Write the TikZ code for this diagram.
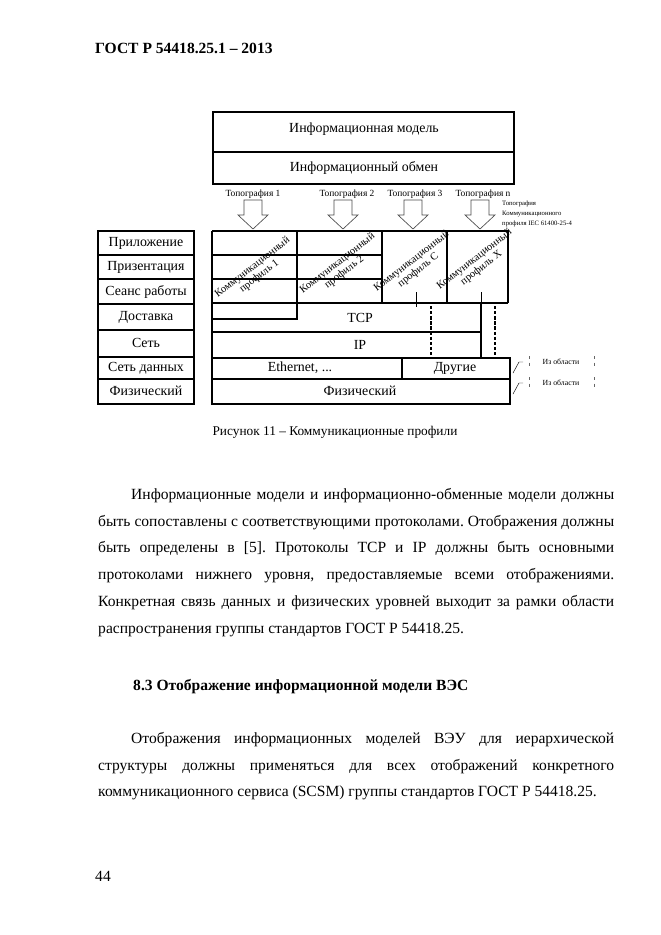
\documentclass[tikz,border=0pt]{standalone}
\usepackage{fontspec}
\setmainfont{Liberation Serif}
\frenchspacing

\begin{document}
\begin{tikzpicture}[x=0.9pt, y=-0.9pt]
  % Styles
  \tikzset{
    frm/.style={line width=1.1pt},
    hdr/.style={font=\fontsize{14}{16}\selectfont\bfseries, inner sep=0pt, anchor=base west},
    lbl/.style={font=\fontsize{12.5}{14}\selectfont, inner sep=0pt},
    topo/.style={font=\fontsize{8.5}{10}\selectfont, inner sep=0pt},
    tiny/.style={font=\fontsize{6}{9}\selectfont, inner sep=0pt, align=left, anchor=north west},
    prof/.style={font=\fontsize{9.5}{10}\selectfont, inner sep=0pt, rotate=38, align=center},
    outside/.style={font=\fontsize{7}{8}\selectfont, inner sep=0pt},
    bodytext/.style={font=\fontsize{14}{24.1}\selectfont, inner sep=0pt, text width=464.4pt,
                     align=justify, anchor=north west},
    blockarr/.style={draw=black!70, line width=0.6pt, fill=white},
  }
  %
  % Layout constants
  \def\lx{98}      % left column x
  \def\lr{194}     % left column right
  \def\sx{212}     % stack x
  \def\sr{508}     % profile area right
  %
  \useasboundingbox[fill=white] (0,0) rectangle (661,935);
  %
  % === PAGE HEADER ===
  \node[hdr] (gost) at (95,53) {ГОСТ Р 54418.25.1 – 2013};
  %
  % === INFORMATION MODEL BOX ===
  \draw[line width=1.4pt] (213,112) rectangle (514,184);
  \draw[frm] (213,152) -- (514,152);
  \node[lbl] (infmodel) at (364,129) {Информационная модель};
  \node[lbl] (infexch) at (364,168) {Информационный обмен};
  %
  % === TOPOGRAPHIES AND BLOCK ARROWS ===
  \foreach \i/\ax/\tx/\t in {1/253/253/1, 2/343/347/2, 3/413/415/3, 4/480/483/n} {
    \node[topo] (topo\i) at (\tx,194) {Топография \t};
    \draw[blockarr] (\ax-9,200) -- (\ax+9,200) -- (\ax+9,215) -- (\ax+15,215)
      -- (\ax,229) -- (\ax-15,215) -- (\ax-9,215) -- cycle;
  }
  \node[tiny] (topoiec) at (502,201) {Топография\\Коммуникационного\\профиля IEC 61400-25-4};
  %
  % === OSI LAYER COLUMN ===
  \draw[frm] (\lx,231) rectangle (\lr,404);
  \foreach \y in {255,279,304,330,357,379} {
    \draw[frm] (\lx,\y) -- (\lr,\y);
  }
  \foreach \n/\y/\txt in {
    1/243/Приложение,
    2/267/Призентация,
    3/292/Сеанс работы,
    4/317/Доставка,
    5/343/Сеть,
    6/368/Сеть данных,
    7/391/Физический%
  } {
    \node[lbl] (osi\n) at (146,\y) {\txt};
  }
  %
  % === PROFILE STACK ===
  \draw[frm] (\sx,231) -- (\sr,231) -- (\sr,303);
  \draw[frm] (\sx,231) -- (\sx,404);
  \draw[frm] (297,231) -- (297,319) -- (\sx,319);
  \draw[frm] (382,231) -- (382,303);
  \draw[frm] (447,231) -- (447,303);
  \foreach \y in {255,279} {
    \draw[frm] (\sx,\y) -- (382,\y);
  }
  \draw[frm] (\sx,303) -- (\sr,303);
  % ticks under profiles C and X
  \draw[thin] (416,292) -- (416,307);
  \draw[thin] (481,292) -- (481,303);
  % TCP / IP
  \draw[line width=1.8pt] (481,303) -- (481,358);
  \draw[frm] (\sx,332) -- (481,332);
  \draw[line width=1.1pt, dash pattern=on 3pt off 1.6pt] (431,306) -- (431,358);
  \draw[line width=1.1pt, dash pattern=on 3pt off 1.6pt] (495,306) -- (495,358);
  % link and physical rows
  \draw[frm] (\sx,358) rectangle (510,404);
  \draw[frm] (\sx,379) -- (510,379);
  \draw[frm] (402,358) -- (402,379);
  %
  \node[prof] (prof1) at (256,272) {Коммуникационный\\профиль 1};
  \node[prof] (prof2) at (341,268) {Коммуникационный\\профиль 2};
  \node[prof] (profc) at (415,266) {Коммуникационный\\профиль C};
  \node[prof] (profx) at (478,264) {Коммуникационный\\профиль X};
  \node[lbl] (tcp) at (360,318) {TCP};
  \node[lbl] (ip) at (360,345) {IP};
  \node[lbl] (eth) at (300,368) {Ethernet, ...};
  \node[lbl] (other) at (455,368) {Другие};
  \node[lbl] (phys) at (360,391) {Физический};
  %
  % === OUT OF SCOPE MARKS ===
  \foreach \n/\y in {1/362, 2/383} {
    \draw[thin] (513,\y+11) -- (519,\y) -- (523,\y);
    \draw[thin, black!60, dashed] (529,\y-6) -- (529,\y+7);
    \draw[thin, black!60, dashed] (594,\y-6) -- (594,\y+7);
    \node[outside] (scope\n) at (561,\y) {Из области};
  }
  %
  % === CAPTION ===
  \node[font=\fontsize{12}{14}\selectfont, inner sep=0pt] (caption) at (335,432)
    {Рисунок 11 – Коммуникационные профили};
  %
  % === BODY TEXT ===
  \node[bodytext] (para1) at (98,488) {\hspace*{29.7pt}Информационные модели и
    информационно-обменные модели должны\linebreak быть сопоставлены с
    соответствующими протоколами. Отображения должны\linebreak быть определены в
    [5]. Протоколы TCP и IP должны быть основными\linebreak протоколами нижнего
    уровня, предоставляемые всеми отображениями.\linebreak Конкретная связь данных
    и физических уровней выходит за рамки области\linebreak распространения группы
    стандартов ГОСТ Р 54418.25.};
  \node[hdr] (sect) at (133,690) {8.3 Отображение информационной модели ВЭС};
  \node[bodytext] (para2) at (98,732) {\hspace*{29.7pt}Отображения информационных
    моделей ВЭУ для иерархической\linebreak структуры должны применяться для всех
    отображений конкретного\linebreak коммуникационного сервиса (SCSM) группы
    стандартов ГОСТ Р 54418.25.};
  %
  % === PAGE NUMBER ===
  \node[font=\fontsize{14}{16}\selectfont, inner sep=0pt, anchor=base west] (pnum) at (95,881) {44};
\end{tikzpicture}
\end{document}
